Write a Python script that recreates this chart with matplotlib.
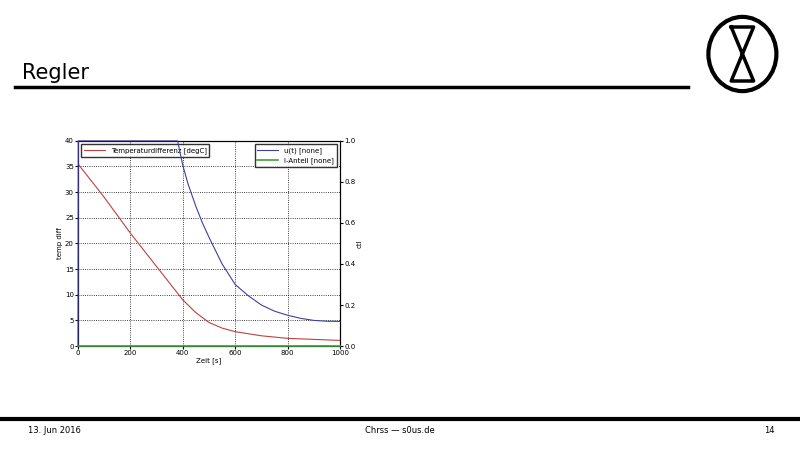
import matplotlib
matplotlib.use("Agg")
import matplotlib.pyplot as plt
from matplotlib.patches import Ellipse

t_temp = [0, 100, 200, 300, 400, 450, 500, 550, 600, 700, 800, 900, 1000]
temp = [35.5, 29, 22, 15.5, 9, 6.5, 4.6, 3.5, 2.8, 2.0, 1.5, 1.3, 1.1]
t_u = [0, 1, 380, 400, 420, 450, 475, 500, 550, 600, 650, 700, 750, 800, 850, 900, 950, 1000]
u = [0, 1.0, 1.0, 0.88, 0.79, 0.68, 0.60, 0.53, 0.40, 0.30, 0.245, 0.20, 0.17, 0.15, 0.135, 0.125, 0.121, 0.12]
t_i = [0, 1000]
i_anteil = [0, 0]

fig = plt.figure(figsize=(8, 4.5), dpi=100)
fig.patch.set_facecolor("white")

fig.text(0.028, 0.825, "Regler", fontsize=15, family="Liberation Sans Narrow", va="baseline")
fig.add_artist(plt.Line2D([0.019, 0.86], [0.807, 0.807], color="black", lw=2.5))
fig.add_artist(plt.Line2D([0, 1], [0.07, 0.07], color="black", lw=3))
fig.text(0.035, 0.043, "13. Jun 2016", fontsize=6, va="center", family="Liberation Sans Narrow")
fig.text(0.5, 0.043, "Chrss — s0us.de", fontsize=6, va="center", ha="center", family="Liberation Sans Narrow")
fig.text(0.955, 0.043, "14", fontsize=6, va="center", family="Liberation Sans Narrow")
fig.add_artist(Ellipse((0.928, 0.88), 0.085, 0.165, fill=False, lw=3, color="black", transform=fig.transFigure))
fig.add_artist(plt.Line2D([0.914, 0.942, 0.914, 0.942, 0.914], [0.94, 0.94, 0.82, 0.82, 0.94], color="black", lw=2.5))

ax = fig.add_axes([0.0975, 0.231, 0.3275, 0.456])
ax.plot(t_temp, temp, color="#c04040", lw=0.8, label="Temperaturdifferenz [degC]")
ax.set_xlim(0, 1000)
ax.set_ylim(0, 40)
ax.set_xticks([0, 200, 400, 600, 800, 1000])
ax.set_yticks(range(0, 41, 5))
ax.grid(True, ls=":", color="black", lw=0.6)
ax.set_xlabel("Zeit [s]", fontsize=5, labelpad=1)
ax.set_ylabel("temp diff", fontsize=5, labelpad=1)
ax.tick_params(labelsize=5, length=2, pad=1)
ax.legend(loc="upper left", fontsize=5, frameon=True, fancybox=False, edgecolor="black", handlelength=3)

ax2 = ax.twinx()
ax2.plot(t_u, u, color="#4040a0", lw=0.8, label="u(t) [none]", clip_on=False, zorder=5)
ax2.plot(t_i, i_anteil, color="#40a040", lw=1.2, label="I-Anteil [none]", clip_on=False, zorder=5)
ax2.set_ylim(0, 1)
ax2.set_yticks([0, 0.2, 0.4, 0.6, 0.8, 1.0])
ax2.set_ylabel("ctl", fontsize=5, labelpad=1)
ax2.tick_params(labelsize=5, length=2, pad=1)
ax2.legend(loc="upper right", fontsize=5, frameon=True, fancybox=False, edgecolor="black", handlelength=3)

fig.savefig("out.png", dpi=100)
